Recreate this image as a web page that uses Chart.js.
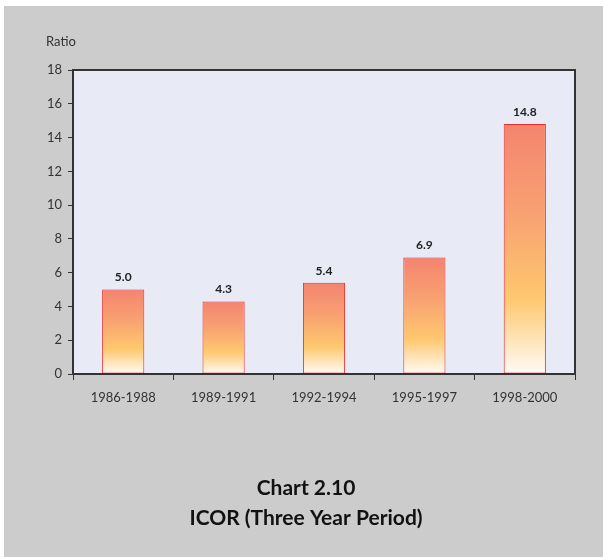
<!DOCTYPE html>
<html lang="en">
<head>
    <meta charset="UTF-8">
    <title>ICOR (Three Year Period)</title>
    <script src="https://cdn.jsdelivr.net/npm/chart.js"></script>
    <style>
        html, body { margin: 0; padding: 0; background: #ffffff; }
        .panel {
            position: absolute;
            left: 4px;
            top: 6px;
            width: 599px;
            height: 551px;
            background: #cccccc;
        }
    </style>
</head>
<body>
    <div class="panel">
        <canvas id="icorChart"></canvas>
    </div>

    <script>
        const periods = ['1986-1988', '1989-1991', '1992-1994', '1995-1997', '1998-2000'];
        const icorValues = [5.0, 4.3, 5.4, 6.9, 14.8];
        const yTicks = [0, 2, 4, 6, 8, 10, 12, 14, 16, 18];
        const unitLabel = 'Ratio';
        const captionLines = ['Chart 2.10', 'ICOR (Three Year Period)'];

        const fontFamily = 'Lato, "DejaVu Sans", sans-serif';

        // plot background + frame around the chart area
        const framePlugin = {
            id: 'frame',
            beforeDraw(chart) {
                const { ctx, chartArea: a } = chart;
                ctx.save();
                ctx.fillStyle = '#e8ebf6';
                ctx.fillRect(a.left, a.top, a.right - a.left, a.bottom - a.top);
                ctx.restore();
            },
            afterDraw(chart) {
                const { ctx, chartArea: a } = chart;
                ctx.save();
                ctx.strokeStyle = '#333333';
                ctx.lineWidth = 2;
                ctx.strokeRect(a.left, a.top, a.right - a.left, a.bottom - a.top);
                ctx.restore();
            }
        };

        // value labels above bars, "Ratio" and the caption
        const textPlugin = {
            id: 'texts',
            afterDatasetsDraw(chart) {
                const { ctx } = chart;
                const meta = chart.getDatasetMeta(0);
                ctx.save();
                ctx.fillStyle = '#222222';
                ctx.font = 'bold 12px ' + fontFamily;
                ctx.textAlign = 'center';
                ctx.textBaseline = 'bottom';
                meta.data.forEach((bar, i) => {
                    ctx.fillText(icorValues[i].toFixed(1), bar.x, bar.y - 6);
                });
                ctx.restore();
            },
            afterDraw(chart) {
                const { ctx } = chart;
                ctx.save();
                ctx.fillStyle = '#333333';
                ctx.font = '13px ' + fontFamily;
                ctx.textAlign = 'left';
                ctx.textBaseline = 'middle';
                ctx.fillText(unitLabel, 42, 36);

                ctx.fillStyle = '#111111';
                ctx.font = 'bold 21px ' + fontFamily;
                ctx.textAlign = 'center';
                ctx.fillText(captionLines[0], 302, 482);
                ctx.fillText(captionLines[1], 302, 512);
                ctx.restore();
            }
        };

        // per-bar vertical gradient: salmon at top, orange-yellow, white at the base
        const barGradient = (context) => {
            const chart = context.chart;
            const yScale = chart.scales.y;
            if (!chart.chartArea || !yScale || context.raw === undefined) return '#fbb070';
            const top = yScale.getPixelForValue(context.raw);
            const bottom = yScale.getPixelForValue(0);
            if (!isFinite(top) || !isFinite(bottom) || top === bottom) return '#fbb070';
            const g = chart.ctx.createLinearGradient(0, top, 0, bottom);
            g.addColorStop(0, '#f4846f');
            g.addColorStop(0.35, '#f8a072');
            g.addColorStop(0.7, '#fec86e');
            g.addColorStop(1, '#fffbf6');
            return g;
        };

        const ctx = document.getElementById('icorChart').getContext('2d');
        new Chart(ctx, {
            type: 'bar',
            data: {
                labels: periods,
                datasets: [{
                    label: 'ICOR',
                    data: icorValues,
                    backgroundColor: barGradient,
                    borderColor: '#ee2b2b',
                    borderWidth: 1,
                    borderSkipped: false,
                    categoryPercentage: 1,
                    barPercentage: 0.42
                }]
            },
            options: {
                responsive: true,
                maintainAspectRatio: false,
                animation: false,
                layout: {
                    padding: { left: 0, top: 64, right: 28, bottom: 143 }
                },
                plugins: {
                    legend: { display: false },
                    title: { display: false },
                    tooltip: { enabled: false }
                },
                scales: {
                    x: {
                        offset: true,
                        grid: {
                            offset: true,
                            drawOnChartArea: false,
                            drawTicks: true,
                            tickLength: 6,
                            color: '#333333'
                        },
                        border: { color: '#333333', width: 2 },
                        ticks: {
                            color: '#333333',
                            font: { family: fontFamily, size: 13 },
                            padding: 10,
                            maxRotation: 0
                        },
                        afterFit(scale) { scale.height = 40; }
                    },
                    y: {
                        min: 0,
                        max: 18,
                        afterBuildTicks(scale) {
                            scale.ticks = yTicks.map(v => ({ value: v }));
                        },
                        grid: {
                            drawOnChartArea: false,
                            drawTicks: true,
                            tickLength: 5,
                            color: '#333333'
                        },
                        border: { color: '#333333', width: 2 },
                        ticks: {
                            color: '#333333',
                            font: { family: fontFamily, size: 13 },
                            padding: 6
                        },
                        afterFit(scale) { scale.width = 69; }
                    }
                }
            },
            plugins: [framePlugin, textPlugin]
        });
    </script>
</body>
</html>
